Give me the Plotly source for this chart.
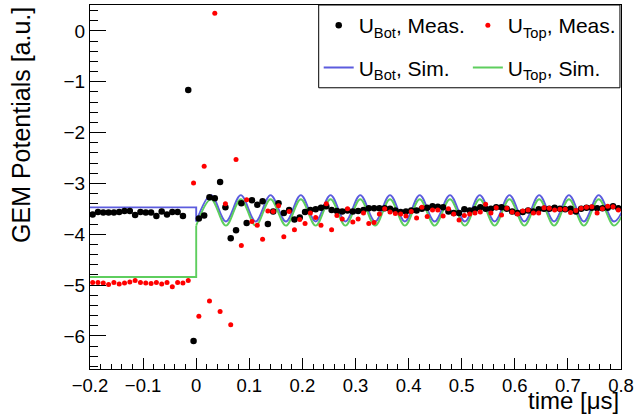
import plotly.graph_objects as go

# Sampling times of the measured potentials [us]
meas_t = [
    -0.195, -0.185, -0.175, -0.165, -0.155, -0.145, -0.135, -0.125, -0.115, -0.105,
    -0.095, -0.085, -0.075, -0.065, -0.055, -0.045, -0.035, -0.025, -0.015, -0.005,
    0.005, 0.015, 0.025, 0.035, 0.045, 0.055, 0.065, 0.075, 0.085, 0.095,
    0.105, 0.115, 0.125, 0.135, 0.145, 0.155, 0.165, 0.175, 0.185, 0.195,
    0.205, 0.215, 0.225, 0.235, 0.245, 0.255, 0.265, 0.275, 0.285, 0.295,
    0.305, 0.315, 0.325, 0.335, 0.345, 0.355, 0.365, 0.375, 0.385, 0.395,
    0.405, 0.415, 0.425, 0.435, 0.445, 0.455, 0.465, 0.475, 0.485, 0.495,
    0.505, 0.515, 0.525, 0.535, 0.545, 0.555, 0.565, 0.575, 0.585, 0.595,
    0.605, 0.615, 0.625, 0.635, 0.645, 0.655, 0.665, 0.675, 0.685, 0.695,
    0.705, 0.715, 0.725, 0.735, 0.745, 0.755, 0.765, 0.775, 0.785, 0.795,
]

# Measured bottom-electrode potential [a.u.]
bot_meas = [
    -3.61, -3.56, -3.57, -3.57, -3.57, -3.56, -3.54, -3.54, -3.62, -3.56,
    -3.57, -3.57, -3.64, -3.55, -3.61, -3.56, -3.56, -3.64, -1.16, -6.10,
    -3.69, -3.63, -3.27, -3.29, -2.97, -3.47, -4.08, -3.92, -3.39, -3.78,
    -3.33, -3.42, -3.35, -3.80, -3.55, -3.39, -3.58, -3.52, -3.71, -3.67,
    -3.56, -3.52, -3.51, -3.48, -3.45, -3.52, -3.54, -3.55, -3.53, -3.55,
    -3.54, -3.52, -3.49, -3.49, -3.49, -3.49, -3.50, -3.53, -3.56, -3.55,
    -3.53, -3.53, -3.50, -3.48, -3.45, -3.46, -3.47, -3.55, -3.58, -3.58,
    -3.51, -3.53, -3.51, -3.47, -3.50, -3.50, -3.47, -3.47, -3.50, -3.55,
    -3.58, -3.56, -3.53, -3.55, -3.51, -3.50, -3.50, -3.48, -3.50, -3.51,
    -3.50, -3.55, -3.50, -3.48, -3.48, -3.49, -3.49, -3.48, -3.45, -3.49,
]

# Measured top-electrode potential [a.u.]
top_meas = [
    -4.95, -4.95, -4.96, -4.99, -4.95, -4.98, -4.96, -4.94, -4.91, -4.95,
    -4.96, -4.97, -4.95, -4.98, -4.95, -5.03, -4.95, -4.96, -4.91, -2.99,
    -5.61, -2.66, -5.31, 0.35, -5.52, -3.40, -5.78, -2.53, -4.22, -3.32,
    -3.75, -3.82, -4.10, -3.54, -3.55, -3.44, -4.05, -3.55, -3.91, -3.71,
    -3.79, -3.58, -3.67, -3.82, -3.40, -3.91, -3.63, -3.70, -3.50, -3.76,
    -3.70, -3.58, -3.79, -3.77, -3.60, -3.50, -3.56, -3.59, -3.60, -3.64,
    -3.55, -3.68, -3.47, -3.65, -3.52, -3.52, -3.64, -3.50, -3.60, -3.72,
    -3.63, -3.60, -3.58, -3.56, -3.41, -3.58, -3.48, -3.62, -3.49, -3.56,
    -3.60, -3.54, -3.52, -3.58, -3.58, -3.48, -3.49, -3.52, -3.51, -3.51,
    -3.57, -3.53, -3.49, -3.47, -3.46, -3.58, -3.50, -3.45, -3.46, -3.52,
]

# Simulation: static level before the switch at t = 0
sim_t_pre = [-0.2, 0.0, 0.0]
bot_sim_pre = [-3.47, -3.47, -3.75]
top_sim_pre = [-4.84, -4.84, -3.83]

# Simulation: ringing after the switch (turning points of the oscillation)
sim_t = [
    0.000, 0.028, 0.056, 0.084, 0.112, 0.140, 0.169, 0.197, 0.225, 0.253,
    0.281, 0.309, 0.337, 0.365, 0.393, 0.421, 0.449, 0.478, 0.506, 0.534,
    0.562, 0.590, 0.618, 0.646, 0.674, 0.702, 0.730, 0.758, 0.787, 0.815,
]
bot_sim = [
    -3.75, -3.23, -3.75, -3.23, -3.75, -3.23, -3.75, -3.23, -3.75, -3.23,
    -3.75, -3.23, -3.75, -3.23, -3.75, -3.23, -3.75, -3.23, -3.75, -3.23,
    -3.75, -3.23, -3.75, -3.23, -3.75, -3.23, -3.75, -3.23, -3.75, -3.23,
]
top_sim = [
    -3.83, -3.31, -3.83, -3.31, -3.83, -3.31, -3.83, -3.31, -3.83, -3.31,
    -3.83, -3.31, -3.83, -3.31, -3.83, -3.31, -3.83, -3.31, -3.83, -3.31,
    -3.83, -3.31, -3.83, -3.31, -3.83, -3.31, -3.83, -3.31, -3.83, -3.31,
]

BLUE = "rgb(92,92,222)"
GREEN = "rgb(94,206,94)"
FONT = "Liberation Sans, Arial, sans-serif"

fig = go.Figure()

# Simulated curves
fig.add_trace(go.Scatter(x=sim_t_pre, y=bot_sim_pre, mode="lines",
                         line=dict(color=BLUE, width=1.9),
                         showlegend=False, hoverinfo="skip"))
fig.add_trace(go.Scatter(x=sim_t_pre, y=top_sim_pre, mode="lines",
                         line=dict(color=GREEN, width=1.9),
                         showlegend=False, hoverinfo="skip"))
fig.add_trace(go.Scatter(x=sim_t, y=bot_sim, mode="lines",
                         line=dict(color=BLUE, width=1.9, shape="spline", smoothing=1),
                         name="U<sub>Bot</sub>, Sim.", legend="legend",
                         legendgroup="bs", legendrank=2))
fig.add_trace(go.Scatter(x=sim_t, y=top_sim, mode="lines",
                         line=dict(color=GREEN, width=1.9, shape="spline", smoothing=1),
                         name="U<sub>Top</sub>, Sim.", legend="legend2",
                         legendgroup="ts", legendrank=2))

# Measured points
fig.add_trace(go.Scatter(x=meas_t, y=bot_meas, mode="markers",
                         marker=dict(color="black", size=6.5),
                         name="U<sub>Bot</sub>, Meas.", legend="legend",
                         legendgroup="bm", legendrank=1))
fig.add_trace(go.Scatter(x=meas_t, y=top_meas, mode="markers",
                         marker=dict(color="red", size=5),
                         name="U<sub>Top</sub>, Meas.", legend="legend2",
                         legendgroup="tm", legendrank=1))

legend_common = dict(
    orientation="v", yanchor="top", y=1.0, xanchor="left",
    bgcolor="rgba(0,0,0,0)", borderwidth=0, traceorder="grouped",
    tracegroupgap=12, font=dict(family=FONT, size=21, color="black"),
)

fig.update_layout(
    width=638, height=418,
    margin=dict(l=90, r=14, t=4, b=49),
    paper_bgcolor="white", plot_bgcolor="white",
    font=dict(family=FONT, color="black"),
    legend=dict(x=0.4307, **legend_common),
    legend2=dict(x=0.7116, **legend_common),
    shapes=[dict(type="rect", xref="paper", yref="paper",
                 x0=0.4307, x1=0.998, y0=0.7726, y1=1.0,
                 line=dict(color="black", width=1), fillcolor="white",
                 layer="below")],
    annotations=[
        dict(text="time [μs]", xref="paper", yref="paper", x=1.0, y=-0.086,
             xanchor="right", yanchor="middle", showarrow=False,
             font=dict(family=FONT, size=24, color="black")),
        dict(text="GEM Potentials [a.u.]", xref="paper", yref="paper",
             x=-0.13, y=1.0, xanchor="center", yanchor="top", textangle=-90,
             showarrow=False, font=dict(family=FONT, size=25, color="black")),
    ],
)

fig.update_xaxes(
    range=[-0.2, 0.8], tick0=0, dtick=0.1, ticks="inside", ticklen=11,
    tickcolor="black", tickwidth=1, showline=True, linecolor="black",
    linewidth=1, mirror=True, showgrid=False, zeroline=False,
    tickfont=dict(family=FONT, size=18.5, color="black"),
    minor=dict(dtick=0.02, tick0=0, ticks="inside", ticklen=5,
               tickcolor="black", showgrid=False),
)
fig.update_yaxes(
    range=[-6.65, 0.51], tick0=0, dtick=1, ticks="inside", ticklen=16,
    tickcolor="black", tickwidth=1, showline=True, linecolor="black",
    linewidth=1, mirror=True, showgrid=False, zeroline=False,
    tickfont=dict(family=FONT, size=19, color="black"),
    minor=dict(dtick=0.2, tick0=0, ticks="inside", ticklen=8,
               tickcolor="black", showgrid=False),
)

fig.write_html("out.html")
